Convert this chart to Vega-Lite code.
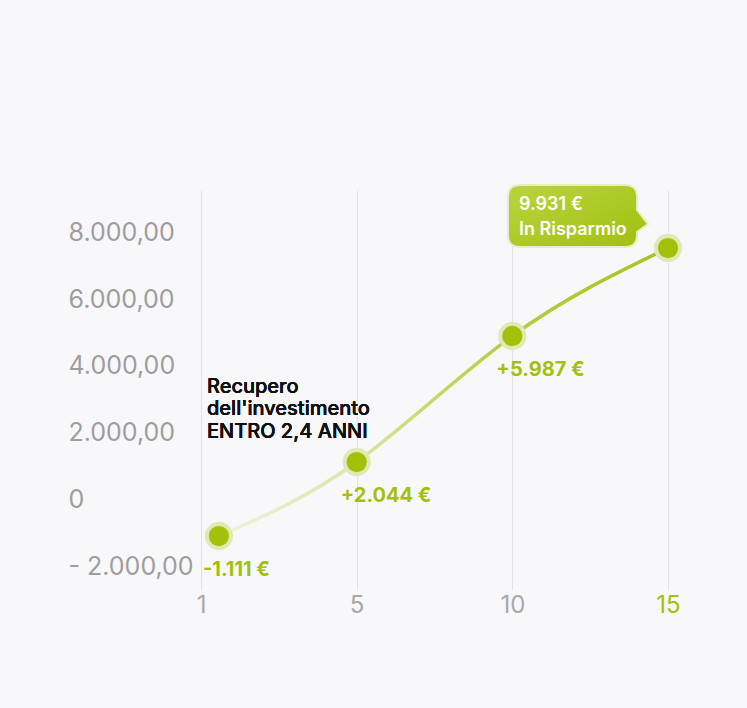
{
  "$schema": "https://vega.github.io/schema/vega-lite/v6.json",
  "width": 467,
  "height": 400,
  "autosize": {"type": "none"},
  "padding": {"left": 201, "top": 190, "right": 79, "bottom": 118},
  "background": "#f8f8fa",
  "config": {
    "view": {"stroke": null},
    "font": "Inter",
    "text": {"font": "Inter"}
  },
  "data": {
    "values": [
      {"anno": 1.46, "risparmio": -1075, "label": "-1.111 €"},
      {"anno": 5, "risparmio": 1134, "label": "+2.044 €"},
      {"anno": 10, "risparmio": 4896, "label": "+5.987 €"},
      {"anno": 15, "risparmio": 7522, "label": "9.931 €\nIn Risparmio"}
    ]
  },
  "encoding": {
    "x": {
      "field": "anno",
      "type": "quantitative",
      "scale": {"domain": [1, 5, 10, 15], "range": [0, 155.67, 311.33, 467], "nice": false, "zero": false},
      "axis": {
        "title": null,
        "values": [1, 5, 10, 15],
        "domain": false,
        "ticks": false,
        "grid": true,
        "gridColor": "#e3e3e7",
        "gridWidth": 1,
        "labelFlush": false,
        "labelOverlap": false,
        "labelFont": "Inter",
        "labelFontSize": 24,
        "labelPadding": 3,
        "labelColor": {"expr": "datum.value == 15 ? '#a3c10a' : '#a9a9a9'"},
        "labelExpr": "format(datum.value, 'd')"
      }
    },
    "y": {
      "field": "risparmio",
      "type": "quantitative",
      "scale": {"domain": [-2687, 9254], "nice": false, "zero": false},
      "axis": {
        "title": null,
        "values": [-2000, 0, 2000, 4000, 6000, 8000],
        "domain": false,
        "ticks": false,
        "grid": false,
        "labelAlign": "left",
        "labelBaseline": "middle",
        "labelPadding": 133,
        "labelFont": "Inter",
        "labelFontSize": 25,
        "labelColor": "#9e9e9e",
        "labelExpr": "datum.value == 0 ? '0' : (datum.value < 0 ? '- ' : '') + format(abs(datum.value) / 1000, 'd') + '.000,00'"
      }
    }
  },
  "layer": [
    {
      "mark": {
        "type": "line",
        "interpolate": "natural",
        "strokeWidth": 3.5,
        "stroke": {
          "gradient": "linear",
          "x1": 0, "y1": 0, "x2": 1, "y2": 0,
          "stops": [
            {"offset": 0, "color": "#f0f3e0"},
            {"offset": 0.3, "color": "#dbe6a6"},
            {"offset": 0.6, "color": "#b8d145"},
            {"offset": 1, "color": "#a6c31a"}
          ]
        }
      }
    },
    {
      "mark": {"type": "point", "filled": true, "shape": "circle", "size": 800, "color": "#e1eab6", "opacity": 1}
    },
    {
      "mark": {"type": "point", "filled": true, "shape": "circle", "size": 410, "color": "#a3c10a", "opacity": 1}
    },
    {
      "transform": [{"filter": "datum.anno == 15"}],
      "mark": {
        "type": "point",
        "filled": true,
        "size": 4,
        "opacity": 1,
        "shape": "M -148 -63 L -43 -63 Q -31 -63 -31 -51 L -31 -38 L -20 -24 L -31 -16 L -31 -13 Q -31 -1 -43 -1 L -148 -1 Q -160 -1 -160 -13 L -160 -51 Q -160 -63 -148 -63 Z",
        "fill": {
          "gradient": "linear",
          "x1": 0, "y1": 0, "x2": 1, "y2": 1,
          "stops": [
            {"offset": 0, "color": "#b9d53e"},
            {"offset": 1, "color": "#a2bf10"}
          ]
        },
        "stroke": "#e6eec6",
        "strokeWidth": 2
      }
    },
    {
      "transform": [{"filter": "datum.anno == 15"}],
      "mark": {
        "type": "text",
        "align": "left",
        "baseline": "alphabetic",
        "dx": -149,
        "dy": -38,
        "lineBreak": "\n",
        "lineHeight": 25,
        "font": "Inter",
        "fontSize": 18,
        "fontWeight": 600,
        "color": "#ffffff"
      },
      "encoding": {"text": {"field": "label"}}
    },
    {
      "transform": [{"filter": "datum.anno < 15"}],
      "mark": {
        "type": "text",
        "align": "left",
        "baseline": "middle",
        "dx": -16,
        "dy": 34,
        "font": "Inter",
        "fontSize": 20,
        "fontWeight": 700,
        "color": "#a3c10a"
      },
      "encoding": {"text": {"field": "label"}}
    },
    {
      "mark": {
        "type": "text",
        "align": "left",
        "baseline": "alphabetic",
        "dx": 6,
        "lineBreak": "\n",
        "lineHeight": 22.5,
        "font": "Inter",
        "fontSize": 20,
        "fontWeight": 500,
        "color": "#111111"
      },
      "encoding": {
        "x": {"datum": 1},
        "y": {"datum": 3200},
        "text": {"value": "Recupero\ndell'investimento\nENTRO 2,4 ANNI"}
      }
    }
  ]
}
